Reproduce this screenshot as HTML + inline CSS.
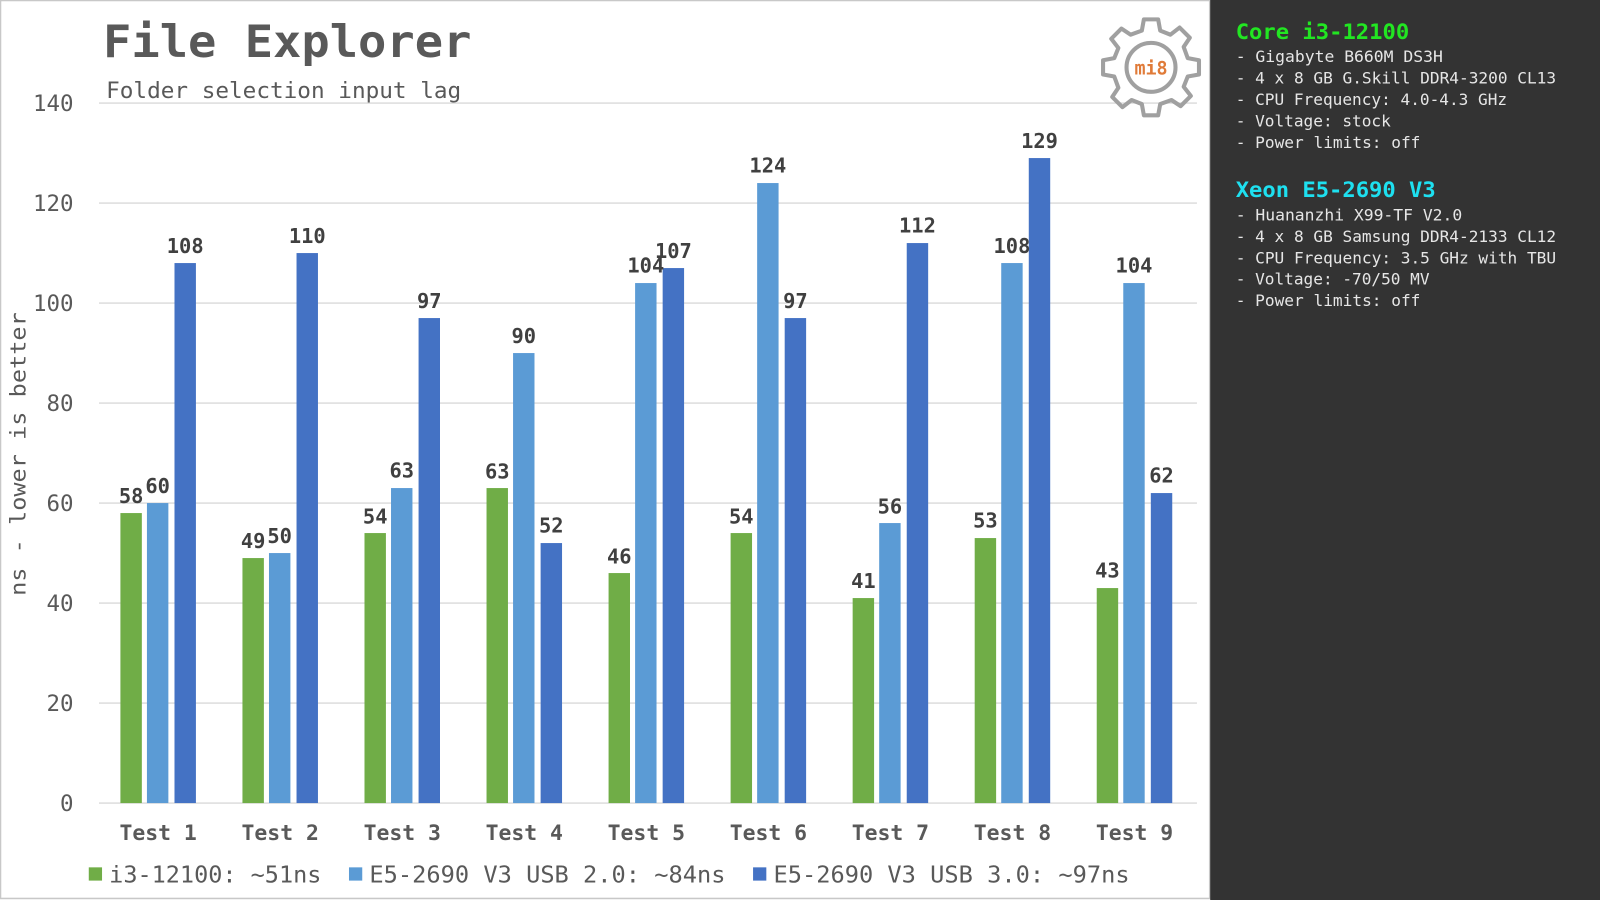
<!DOCTYPE html>
<html><head><meta charset="utf-8"><style>
html,body{margin:0;padding:0;background:#fff;overflow:hidden}
svg{display:block}
text{font-family:"DejaVu Sans Mono","Liberation Mono",monospace}
</style></head><body>
<svg width="1600" height="900" viewBox="0 0 1568 882" preserveAspectRatio="none" xmlns="http://www.w3.org/2000/svg">
<rect x="0" y="0" width="1568" height="882" fill="#fff"/>
<rect x="0.5" y="0.5" width="1185" height="880" fill="none" stroke="#c8c8c8" stroke-width="1.5"/>
<rect x="1186" y="0" width="382" height="882" fill="#333333"/>
<g stroke="#d9d9d9" stroke-width="1.3">
<line x1="97" x2="1173" y1="101" y2="101"/><line x1="97" x2="1173" y1="199" y2="199"/>
<line x1="97" x2="1173" y1="297" y2="297"/><line x1="97" x2="1173" y1="395" y2="395"/>
<line x1="97" x2="1173" y1="493" y2="493"/><line x1="97" x2="1173" y1="591" y2="591"/>
<line x1="97" x2="1173" y1="689" y2="689"/><line x1="97" x2="1173" y1="787" y2="787"/>
</g>
<text x="101" y="56" font-size="44" font-weight="bold" fill="#595959" textLength="361" lengthAdjust="spacingAndGlyphs">File Explorer</text>
<text x="104" y="96" font-size="22" fill="#595959" textLength="348" lengthAdjust="spacingAndGlyphs">Folder selection input lag</text>
<g font-size="22" fill="#595959" text-anchor="end">
<text x="72" y="109">140</text><text x="72" y="207">120</text><text x="72" y="305">100</text>
<text x="72" y="403">80</text><text x="72" y="501">60</text><text x="72" y="599">40</text>
<text x="72" y="697">20</text><text x="72" y="795">0</text>
</g>
<text transform="translate(25,445) rotate(-90)" font-size="21" fill="#595959" text-anchor="middle" textLength="278" lengthAdjust="spacingAndGlyphs">ns - lower is better</text>
<g fill="#70ad47">
<rect x="118" y="502.8" width="21" height="284.2"/><rect x="237.6" y="546.9" width="21" height="240.1"/>
<rect x="357.2" y="522.4" width="21" height="264.6"/><rect x="476.8" y="478.3" width="21" height="308.7"/>
<rect x="596.4" y="561.6" width="21" height="225.4"/><rect x="716" y="522.4" width="21" height="264.6"/>
<rect x="835.6" y="586.1" width="21" height="200.9"/><rect x="955.2" y="527.3" width="21" height="259.7"/>
<rect x="1074.8" y="576.3" width="21" height="210.7"/>
</g>
<g fill="#5b9bd5">
<rect x="144" y="493" width="21" height="294"/><rect x="263.6" y="542" width="21" height="245"/>
<rect x="383.2" y="478.3" width="21" height="308.7"/><rect x="502.8" y="346" width="21" height="441"/>
<rect x="622.4" y="277.4" width="21" height="509.6"/><rect x="742" y="179.4" width="21" height="607.6"/>
<rect x="861.6" y="512.6" width="21" height="274.4"/><rect x="981.2" y="257.8" width="21" height="529.2"/>
<rect x="1100.8" y="277.4" width="21" height="509.6"/>
</g>
<g fill="#4472c4">
<rect x="171" y="257.8" width="21" height="529.2"/><rect x="290.6" y="248" width="21" height="539"/>
<rect x="410.2" y="311.7" width="21" height="475.3"/><rect x="529.8" y="532.2" width="21" height="254.8"/>
<rect x="649.4" y="262.7" width="21" height="524.3"/><rect x="769" y="311.7" width="21" height="475.3"/>
<rect x="888.6" y="238.2" width="21" height="548.8"/><rect x="1008.2" y="154.9" width="21" height="632.1"/>
<rect x="1127.8" y="483.2" width="21" height="303.8"/>
</g>
<g font-size="20" font-weight="bold" fill="#404040" text-anchor="middle">
<text x="128.5" y="493">58</text><text x="248.1" y="537">49</text><text x="367.7" y="513">54</text>
<text x="487.3" y="469">63</text><text x="606.9" y="552">46</text><text x="726.5" y="513">54</text>
<text x="846.1" y="576">41</text><text x="965.7" y="517">53</text><text x="1085.3" y="566">43</text>
<text x="154.5" y="483">60</text><text x="274.1" y="532">50</text><text x="393.7" y="468">63</text>
<text x="513.3" y="336">90</text><text x="632.9" y="267">104</text><text x="752.5" y="169">124</text>
<text x="872.1" y="503">56</text><text x="991.7" y="248">108</text><text x="1111.3" y="267">104</text>
<text x="181.5" y="248">108</text><text x="301.1" y="238">110</text><text x="420.7" y="302">97</text>
<text x="540.3" y="522">52</text><text x="659.9" y="253">107</text><text x="779.5" y="302">97</text>
<text x="899.1" y="228">112</text><text x="1018.7" y="145">129</text><text x="1138.3" y="473">62</text>
</g>
<g font-size="21" font-weight="bold" fill="#595959" text-anchor="middle">
<text x="155" y="823">Test 1</text><text x="274.6" y="823">Test 2</text><text x="394.2" y="823">Test 3</text>
<text x="513.8" y="823">Test 4</text><text x="633.4" y="823">Test 5</text><text x="753" y="823">Test 6</text>
<text x="872.6" y="823">Test 7</text><text x="992.2" y="823">Test 8</text><text x="1111.8" y="823">Test 9</text>
</g>
<g font-size="23" fill="#595959">
<rect x="87" y="850" width="13" height="13" fill="#70ad47"/>
<text x="107" y="865" textLength="208" lengthAdjust="spacingAndGlyphs">i3-12100: ~51ns</text>
<rect x="342" y="850" width="13" height="13" fill="#5b9bd5"/>
<text x="362" y="865" textLength="349" lengthAdjust="spacingAndGlyphs">E5-2690 V3 USB 2.0: ~84ns</text>
<rect x="738" y="850" width="13" height="13" fill="#4472c4"/>
<text x="758" y="865" textLength="349" lengthAdjust="spacingAndGlyphs">E5-2690 V3 USB 3.0: ~97ns</text>
</g>
<g transform="translate(1128,66)">
<g fill="none" stroke="#a0a0a0" stroke-width="4" stroke-linejoin="round">
<path d="M-7,-47 L7,-47 L9,-36 L19,-32 L28,-39 L38,-29 L32,-20 L36,-9 L47,-7 L47,7 L36,9 L32,19 L39,28 L29,38 L20,32 L9,36 L7,47 L-7,47 L-9,36 L-19,32 L-28,39 L-38,29 L-32,20 L-36,9 L-47,7 L-47,-7 L-36,-9 L-32,-19 L-39,-28 L-29,-38 L-20,-32 L-9,-36 Z"/>
<circle r="24"/>
</g>
<text x="0" y="7" font-size="18" font-weight="bold" fill="#e07b39" text-anchor="middle">mi8</text>
</g>
<text x="1211" y="38" font-size="21" font-weight="bold" fill="#22e622" textLength="170" lengthAdjust="spacingAndGlyphs">Core i3-12100</text>
<g font-size="15.5" fill="#e6e6e6">
<text x="1211" y="61" textLength="203" lengthAdjust="spacingAndGlyphs">- Gigabyte B660M DS3H</text>
<text x="1211" y="82" textLength="314" lengthAdjust="spacingAndGlyphs">- 4 x 8 GB G.Skill DDR4-3200 CL13</text>
<text x="1211" y="103" textLength="266" lengthAdjust="spacingAndGlyphs">- CPU Frequency: 4.0-4.3 GHz</text>
<text x="1211" y="124" textLength="152" lengthAdjust="spacingAndGlyphs">- Voltage: stock</text>
<text x="1211" y="145" textLength="181" lengthAdjust="spacingAndGlyphs">- Power limits: off</text>
</g>
<text x="1211" y="193" font-size="21" font-weight="bold" fill="#1ee0f0" textLength="196" lengthAdjust="spacingAndGlyphs">Xeon E5-2690 V3</text>
<g font-size="15.5" fill="#e6e6e6">
<text x="1211" y="216" textLength="222" lengthAdjust="spacingAndGlyphs">- Huananzhi X99-TF V2.0</text>
<text x="1211" y="237" textLength="314" lengthAdjust="spacingAndGlyphs">- 4 x 8 GB Samsung DDR4-2133 CL12</text>
<text x="1211" y="258" textLength="314" lengthAdjust="spacingAndGlyphs">- CPU Frequency: 3.5 GHz with TBU</text>
<text x="1211" y="279" textLength="190" lengthAdjust="spacingAndGlyphs">- Voltage: -70/50 MV</text>
<text x="1211" y="300" textLength="181" lengthAdjust="spacingAndGlyphs">- Power limits: off</text>
</g>
</svg>
</body></html>
